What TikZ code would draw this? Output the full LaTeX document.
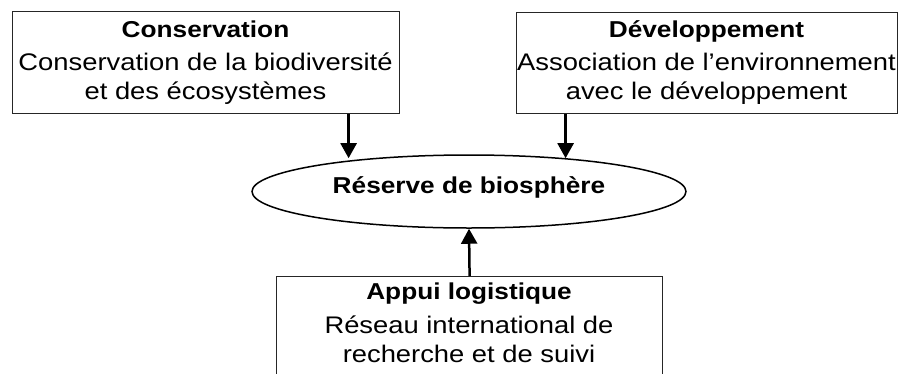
\documentclass[tikz,border=0pt]{standalone}
\usepackage{fontspec}
\setmainfont[FakeStretch=1.14]{Liberation Sans}
\usetikzlibrary{arrows.meta,shapes.geometric}
\begin{document}
\begin{tikzpicture}[x=1pt,y=-1pt,
  box/.style={draw=black!85, line width=1.2pt, inner sep=0pt, anchor=north west},
  ttl/.style={font=\bfseries\fontsize{23}{28}\selectfont, anchor=base, inner sep=0pt},
  txt/.style={font=\fontsize{24}{28}\selectfont, anchor=base, inner sep=0pt},
  arr/.style={line width=2.5pt, -{Triangle[length=15pt,width=16pt]}}]
\useasboundingbox (0,0) rectangle (898,373);
\clip (0,0) rectangle (898,373);
% boxes
\node[box, minimum width=387pt, minimum height=102pt] (cons) at (12,11) {};
\node[box, minimum width=381pt, minimum height=101pt] (dev) at (516,12) {};
\node[box, minimum width=386pt, minimum height=110pt] (app) at (276,276) {};
\node[draw, ellipse, line width=1.5pt, minimum width=434pt, minimum height=73pt, inner sep=0pt] (res) at (469,191.5) {};
% texts
\node[ttl] (consT) at (205.5,37) {Conservation};
\node[txt] (consA) at (205.5,70) {Conservation de la biodiversité};
\node[txt] (consB) at (205.5,99) {et des écosystèmes};
\node[ttl] (devT) at (706.5,37) {Développement};
\node[txt] (devA) at (706.5,70) {Association de l’environnement};
\node[txt] (devB) at (706.5,99) {avec le développement};
\node[ttl] (resT) at (469,193) {Réserve de biosphère};
\node[ttl] (appT) at (469,299) {Appui logistique};
\node[txt] (appA) at (469,333) {Réseau international de};
\node[txt] (appB) at (469,362) {recherche et de suivi};
% arrows
\draw[arr] ([xshift=142.5pt]cons.south) -- ++(0,44);
\draw[arr] ([xshift=-141.5pt]dev.south) -- ++(0,44);
\draw[arr] (app.north) -- (res.south);
\end{tikzpicture}
\end{document}
